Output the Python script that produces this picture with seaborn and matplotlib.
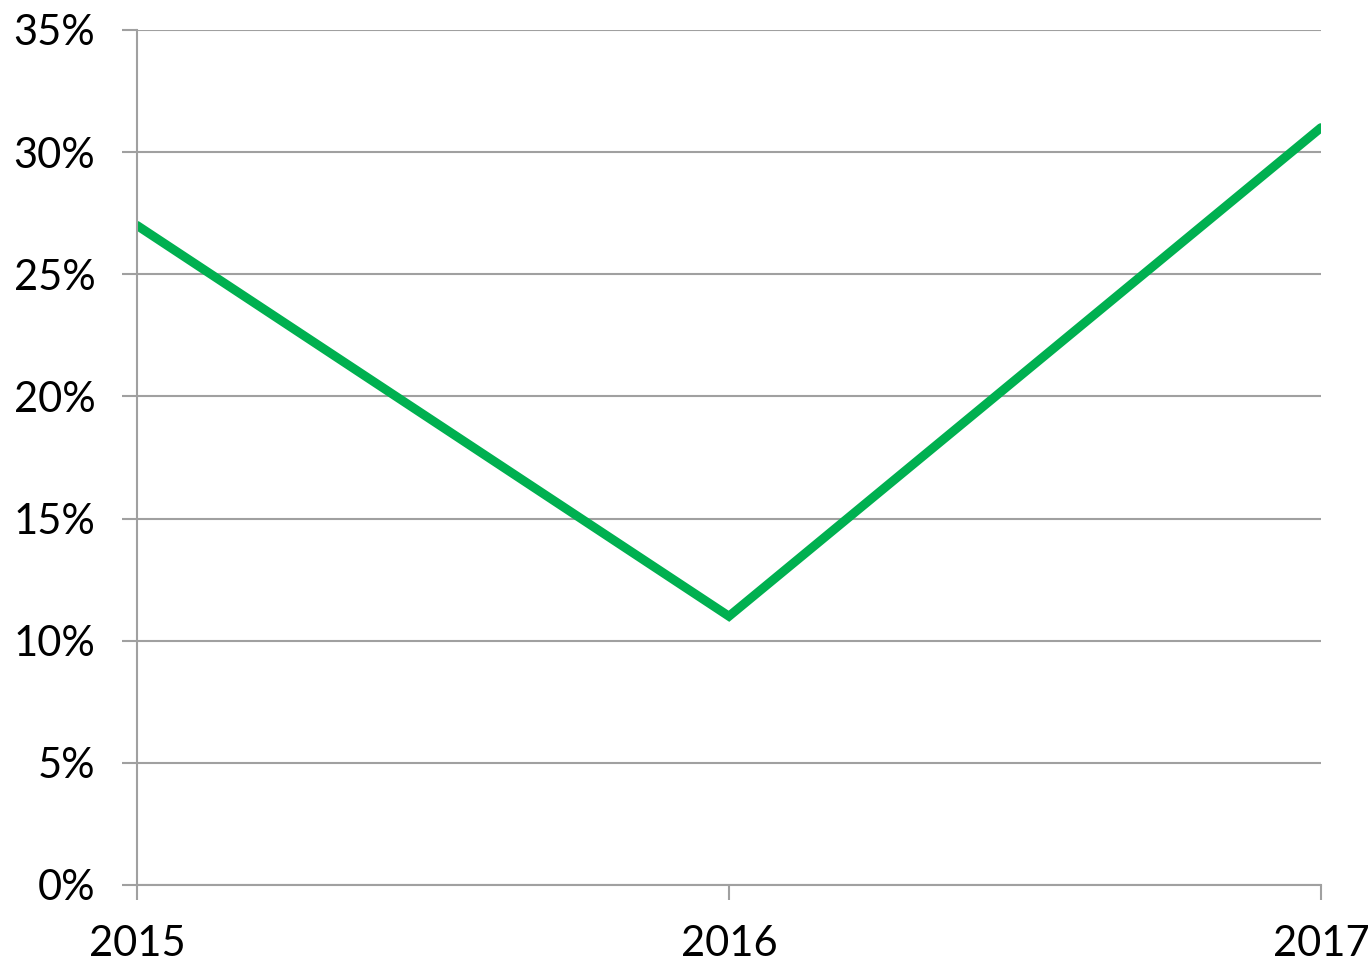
import matplotlib
matplotlib.use("Agg")
import matplotlib.pyplot as plt
import seaborn as sns
import pandas as pd
from matplotlib.ticker import FuncFormatter

years = [2015, 2016, 2017]
share = [27, 11, 31]

df = pd.DataFrame({"year": years, "share": share})

sns.set_style("white")
plt.rcParams['font.family'] = ['Lato', 'DejaVu Sans']

fig = plt.figure(figsize=(13.71, 9.64), dpi=100)
ax = fig.add_axes([0.0999, 0.082, 0.8636, 0.8869])

sns.lineplot(data=df, x="year", y="share", ax=ax, color="#00B050",
             linewidth=6.5, solid_capstyle="round", solid_joinstyle="miter")

ax.set_xlim(2015, 2017)
ax.set_ylim(0, 35)
ax.set_xticks(years)
ax.set_yticks(range(0, 36, 5))
ax.yaxis.set_major_formatter(FuncFormatter(lambda v, p: f"{int(v)}%"))
ax.grid(axis="y", color="#a0a0a0", linewidth=1.5)
ax.set_axisbelow(True)

for s in ["top", "right"]:
    ax.spines[s].set_visible(False)
for s in ["left", "bottom"]:
    ax.spines[s].set_color("#a0a0a0")
    ax.spines[s].set_linewidth(1.5)

ax.tick_params(axis="both", which="major", direction="out", length=11, width=1.5,
               color="#a0a0a0", labelsize=30, labelcolor="black",
               bottom=True, left=True)
ax.tick_params(axis="y", pad=19)
ax.tick_params(axis="x", pad=18)
ax.set_xlabel("")
ax.set_ylabel("")
for lab in ax.get_xticklabels():
    lab.set_clip_on(False)

fig.savefig("out.png", dpi=100)
